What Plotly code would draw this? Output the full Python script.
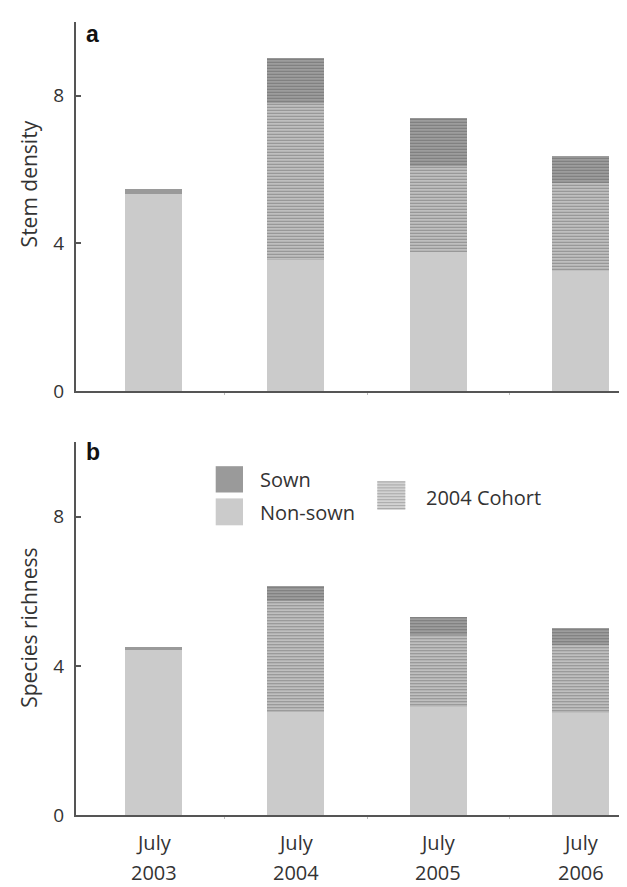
import plotly.graph_objects as go

categories = ["July 2003", "July 2004", "July 2005", "July 2006"]
line1 = ["July", "July", "July", "July"]
line2 = ["2003", "2004", "2005", "2006"]

# Panel a: stem density
a_nonsown = [5.35, 3.54, 3.77, 3.25]
a_cohort = [0.0, 4.26, 2.32, 2.40]
a_sown = [0.13, 1.23, 1.31, 0.72]

# Panel b: species richness
b_nonsown = [4.42, 2.75, 2.91, 2.73]
b_cohort = [0.0, 2.98, 1.91, 1.84]
b_sown = [0.09, 0.42, 0.50, 0.44]

yticks = [0, 4, 8]

W, H = 627, 887
FONT = "Open Sans"
TXT = "#333333"
AX = "#555555"

def px(x):
    return x / W

def py(y):
    return (H - y) / H

fig = go.Figure()

def add_panel(nonsown, cohort, sown, xa, ya):
    fig.add_trace(go.Bar(x=categories, y=nonsown, width=0.4, xaxis=xa, yaxis=ya,
                         marker=dict(color="#cbcbcb", line=dict(width=0)),
                         name="Non-sown", showlegend=False))
    fig.add_trace(go.Bar(x=categories, y=cohort, width=0.4, xaxis=xa, yaxis=ya,
                         marker=dict(color="#c6c6c6", line=dict(width=0),
                                     pattern=dict(shape="-", size=3, solidity=0.45,
                                                  fgcolor="#8e8e8e", bgcolor="#c9c9c9",
                                                  fillmode="replace")),
                         name="2004 Cohort", showlegend=False))
    fig.add_trace(go.Bar(x=categories, y=sown, width=0.4, xaxis=xa, yaxis=ya,
                         marker=dict(color="#9a9a9a", line=dict(width=0),
                                     pattern=dict(shape=["", "-", "-", "-"], size=3, solidity=0.45,
                                                  fgcolor="#7a7a7a", bgcolor="#a4a4a4",
                                                  fillmode="replace")),
                         name="Sown", showlegend=False))

add_panel(a_nonsown, a_cohort, a_sown, "x", "y")
add_panel(b_nonsown, b_cohort, b_sown, "x2", "y2")

xcommon = dict(domain=[px(68), 1], range=[-0.544, 3.38], showline=True, linecolor=AX,
               linewidth=2, showgrid=False, zeroline=False, showticklabels=False,
               ticks="outside", ticklen=2, tickcolor="#bbbbbb", tickmode="array",
               tickvals=[0.5, 1.5, 2.5], ticktext=["", "", ""], type="category")
ycommon = dict(range=[0, 10], showline=True, linecolor=AX, linewidth=2, showgrid=False,
               zeroline=False, tickvals=yticks, ticks="inside", ticklen=5, tickwidth=1.5,
               tickcolor=AX, tickfont=dict(family=FONT, size=19, color=TXT),
               ticklabelstandoff=6)

fig.update_layout(
    width=W, height=H, margin=dict(l=0, r=0, t=0, b=0),
    paper_bgcolor="white", plot_bgcolor="white", barmode="stack", bargap=0.6,
    xaxis=dict(**xcommon, anchor="y"),
    xaxis2=dict(**xcommon, anchor="y2"),
    yaxis=dict(**ycommon, domain=[py(389), py(14)], anchor="x"),
    yaxis2=dict(**ycommon, domain=[py(819), py(440.7)], anchor="x2"),
    showlegend=False,
)

def note(x, y, text, size, xref="paper", xanchor="center", angle=0, family=FONT, color=TXT):
    return dict(x=x, y=y, xref=xref, yref="paper", text=text, showarrow=False,
                xanchor=xanchor, yanchor="middle", textangle=angle,
                font=dict(family=family, size=size, color=color))

ann = []
for c, l1, l2 in zip(categories, line1, line2):
    ann.append(note(c, py(847), l1, 20, xref="x2"))
    ann.append(note(c, py(877), l2, 20, xref="x2"))

ann.append(note(px(21), py(179), "Stem density", 21, angle=-90))
ann.append(note(px(21), py(629), "Species richness", 21, angle=-90))
ann.append(note(px(84), py(26), "<b>a</b>", 23, family="Liberation Sans", color="#111111"))
ann.append(note(px(85), py(451), "<b>b</b>", 23, family="Liberation Sans", color="#111111"))

# Legend
ann.append(note(px(250), py(479), "Sown", 20, xanchor="left"))
ann.append(note(px(250), py(511.7), "Non-sown", 20, xanchor="left"))
ann.append(note(px(416), py(496.7), "2004 Cohort", 20, xanchor="left"))

shapes = [
    dict(type="rect", xref="paper", yref="paper", x0=px(207.7), x1=px(235), y0=py(491.7), y1=py(465),
         fillcolor="#9a9a9a", line=dict(width=0)),
    dict(type="rect", xref="paper", yref="paper", x0=px(207.7), x1=px(235), y0=py(525), y1=py(497.7),
         fillcolor="#cbcbcb", line=dict(width=0)),
    dict(type="rect", xref="paper", yref="paper", x0=px(369.3), x1=px(397.3), y0=py(509.3), y1=py(480),
         fillcolor="#d2d2d2", line=dict(width=0)),
]
yy = 481.0
while yy < 509:
    shapes.append(dict(type="line", xref="paper", yref="paper", x0=px(369.3), x1=px(397.3),
                       y0=py(yy), y1=py(yy), line=dict(color="#a8a8a8", width=1)))
    yy += 3

fig.update_layout(annotations=ann, shapes=shapes)
fig.write_html("out.html")
